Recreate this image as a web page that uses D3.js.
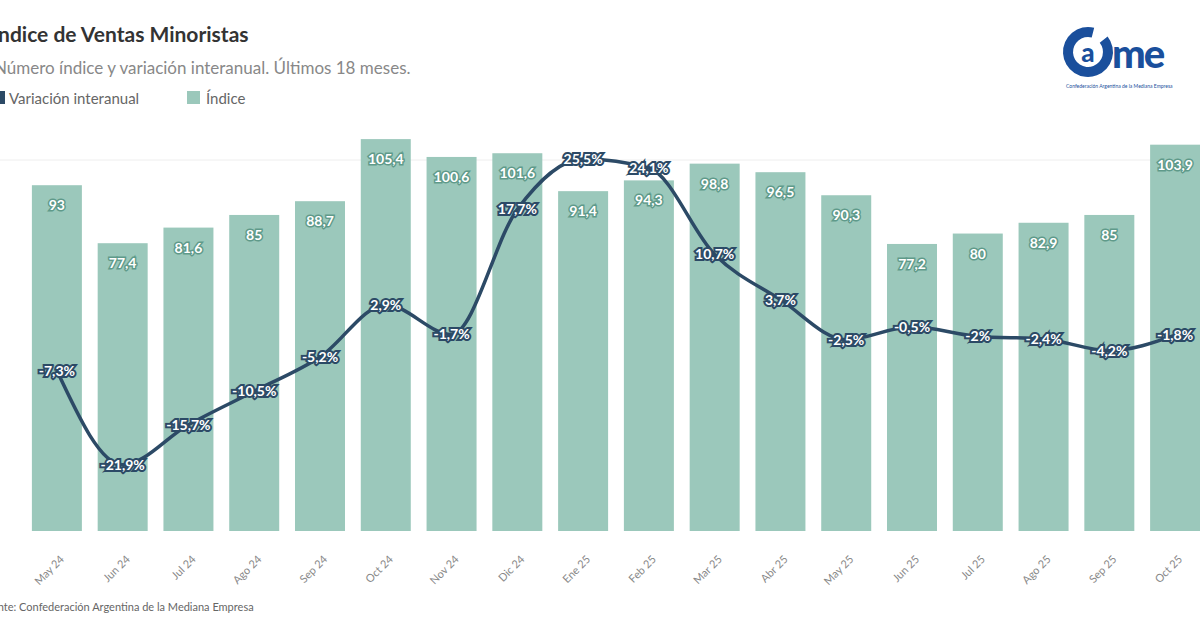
<!DOCTYPE html><html><head><meta charset="utf-8"><script src="https://cdn.jsdelivr.net/npm/d3@7"></script>
<style>body{margin:0;background:#fff;font-family:Lato,"Open Sans",sans-serif}</style></head><body><svg id="c" width="1200" height="630"></svg><script>
const months=["May 24","Jun 24","Jul 24","Ago 24","Sep 24","Oct 24","Nov 24","Dic 24","Ene 25","Feb 25","Mar 25","Abr 25","May 25","Jun 25","Jul 25","Ago 25","Sep 25","Oct 25"];
const indice=[93,77.4,81.6,85,88.7,105.4,100.6,101.6,91.4,94.3,98.8,96.5,90.3,77.2,80,82.9,85,103.9];
const variacion=[-7.3,-21.9,-15.7,-10.5,-5.2,2.9,-1.7,17.7,25.5,24.1,10.7,3.7,-2.5,-0.5,-2,-2.4,-4.2,-1.8];
const svg=d3.select("#c");
const fmt=v=>String(v).split(".").join(",");
const x=d3.scaleBand().domain(months).range([24,1208]).paddingInner(0.24).paddingOuter(0.12);
const y=d3.scaleLinear().domain([0,110]).range([531,122]);
const y2=d3.scaleLinear().domain([-30,30]).range([517,130]);
svg.append("line").attr("x1",0).attr("x2",1200).attr("y1",160).attr("y2",160).attr("stroke","#eee");
svg.append("g").selectAll("rect").data(indice).join("rect").attr("x",(d,i)=>x(months[i])).attr("width",x.bandwidth()).attr("y",d=>y(d)).attr("height",d=>y(0)-y(d)).attr("fill","#9bc8bb");
svg.append("g").selectAll("text").data(indice).join("text").attr("x",(d,i)=>x(months[i])+x.bandwidth()/2).attr("y",d=>y(d)+25).attr("text-anchor","middle").attr("font-size",14).attr("font-weight",700).attr("fill","#fff").attr("stroke","#5f9a8a").attr("stroke-width",3).attr("paint-order","stroke").text(d=>fmt(d));
const line=d3.line().x((d,i)=>x(months[i])+x.bandwidth()/2).y(d=>y2(d)).curve(d3.curveMonotoneX);
svg.append("path").datum(variacion).attr("d",line).attr("fill","none").attr("stroke","#2c4a66").attr("stroke-width",3.5);
svg.append("g").selectAll("text").data(variacion).join("text").attr("x",(d,i)=>x(months[i])+x.bandwidth()/2).attr("y",d=>y2(d)+5).attr("text-anchor","middle").attr("font-size",14).attr("font-weight",700).attr("fill","#fff").attr("stroke","#2c4a66").attr("stroke-width",4).attr("paint-order","stroke").text(d=>fmt(d)+"%");
svg.append("g").selectAll("text").data(months).join("text").attr("transform",d=>`translate(${x(d)+x.bandwidth()/2+8},${560}) rotate(-45)`).attr("text-anchor","end").attr("font-size",11).attr("fill","#888").text(d=>d);
svg.append("text").attr("x",-8).attr("y",42).attr("font-size",21).attr("font-weight",700).attr("fill","#333").text("Índice de Ventas Minoristas");
svg.append("text").attr("x",-6).attr("y",74).attr("font-size",17).attr("fill","#888").text("Número índice y variación interanual. Últimos 18 meses.");
svg.append("rect").attr("x",-8).attr("y",91).attr("width",13).attr("height",13).attr("fill","#2c4a66");
svg.append("text").attr("x",9).attr("y",104).attr("font-size",15).attr("fill","#666").text("Variación interanual");
svg.append("rect").attr("x",187).attr("y",91).attr("width",13).attr("height",13).attr("fill","#9bc8bb");
svg.append("text").attr("x",206).attr("y",104).attr("font-size",15).attr("fill","#666").text("Índice");
svg.append("text").attr("x",-20).attr("y",611).attr("font-size",11).attr("fill","#666").text("Fuente: Confederación Argentina de la Mediana Empresa");
const arc=d3.arc().innerRadius(15).outerRadius(25).startAngle(0.9).endAngle(2*Math.PI+0.25);
svg.append("path").attr("d",arc()).attr("transform","translate(1088,52)").attr("fill","#1a4f9c");
svg.append("text").attr("x",1088).attr("y",62).attr("text-anchor","middle").attr("font-size",26).attr("font-weight",900).attr("fill","#1a4f9c").text("a");
svg.append("text").attr("x",1112).attr("y",68).attr("font-size",40).attr("font-weight",900).attr("fill","#1a4f9c").attr("letter-spacing",-2).text("me");
svg.append("text").attr("x",1066).attr("y",88).attr("font-size",5).attr("fill","#1a4f9c").text("Confederación Argentina de la Mediana Empresa");
</script></body></html>
